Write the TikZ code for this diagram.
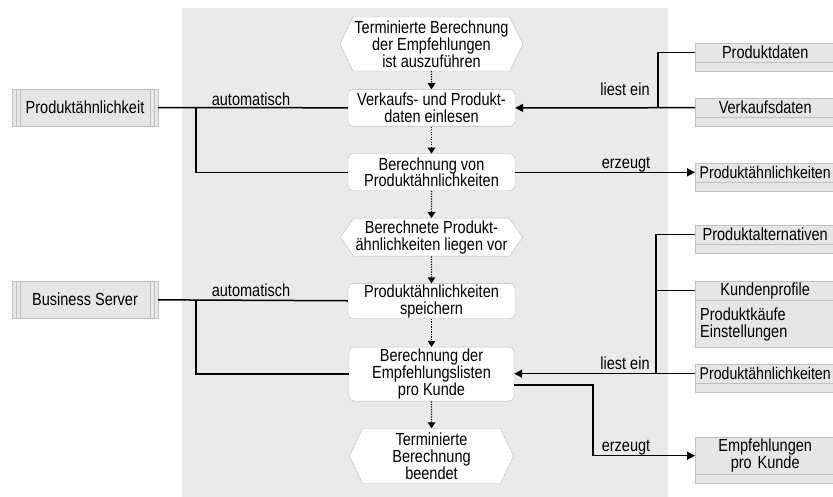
\documentclass[tikz,border=0pt]{standalone}
\usepackage{fontspec}
\setmainfont{Liberation Sans}[FakeStretch=0.83]
\usetikzlibrary{arrows.meta,shapes.symbols,positioning}
\definecolor{bggray}{RGB}{234,234,234}
\definecolor{boxfill}{RGB}{230,230,230}
\definecolor{boxline}{RGB}{192,192,192}
\definecolor{taskline}{RGB}{188,188,188}

\begin{document}
\begin{tikzpicture}[x=1pt, y=-1pt,
    task/.style={draw=taskline, fill=white, rounded corners=5pt, minimum width=167pt, minimum height=37pt, align=center, inner sep=1pt},
    event/.style={signal, signal to=east and west, draw=taskline, fill=white, minimum width=183pt, align=center, inner sep=1pt},
    actor/.style={draw=boxline, fill=boxfill, minimum width=146pt, minimum height=37pt, path picture={
        \foreach \d in {4,8} {
          \draw[boxline] ([xshift=\d pt]path picture bounding box.south west) -- ([xshift=\d pt]path picture bounding box.north west);
          \draw[boxline] ([xshift=-\d pt]path picture bounding box.south east) -- ([xshift=-\d pt]path picture bounding box.north east);
        }}},
    store/.style={draw=boxline, fill=boxfill, anchor=north west, minimum width=140pt, minimum height=19pt, text width=130pt, align=center, inner xsep=5pt, inner ysep=1pt},
    strip/.style={draw=boxline, fill=boxfill, minimum width=140pt, minimum height=9pt, inner sep=0pt},
    storebox/.style={store, label={[strip]below:}},
    widebox/.style={storebox, text width=132pt, inner xsep=4pt, font=\fontsize{17}{16.8}\selectfont},
    flow/.style={line width=1.4pt, dash pattern=on 1.2pt off 1.3pt, -{Triangle[length=6pt,width=7.5pt]}},
    link/.style={line width=1.5pt},
    feed/.style={link, -{Triangle[length=8pt,width=8pt]}},
    lbl/.style={anchor=base, inner sep=0pt}]
  \fontsize{17.5}{16.8}\selectfont
  \useasboundingbox (0,0) rectangle (833,497);
  \clip (0,0) rectangle (833,497);
  \fill[bggray] (182,8) rectangle (668,497);

  % process column
  \node[event, signal pointer angle=128, minimum height=54pt] (start) at (431.5,44) {Terminierte Berechnung\\der Empfehlungen\\ist auszuführen};
  \node[task, below=18pt of start] (read) {Verkaufs- und Produkt-\\daten einlesen};
  \node[task, below=27pt of read] (calc) {Berechnung von\\Produktähnlichkeiten};
  \node[event, signal pointer angle=111, minimum width=182pt, minimum height=38pt, below=27pt of calc] (ready) {Berechnete Produkt-\\ähnlichkeiten liegen vor};
  \node[task, minimum height=35pt, below=27pt of ready] (save) {Produktähnlichkeiten\\speichern};
  \node[task, minimum width=165pt, minimum height=54pt, below=28pt of save] (lists) {Berechnung der\\Empfehlungslisten\\pro Kunde};
  \node[event, signal pointer angle=129, minimum width=164pt, minimum height=55pt, below=27pt of lists] (done) {Terminierte\\Berechnung\\beendet};

  % systems
  \node[actor] (simjob) at (85,107.5) {Produktähnlichkeit};
  \node[actor] (server) at (85,299.5) {Business Server};

  % data
  \node[storebox] (proddata) at (695,43) {Produktdaten};
  \node[storebox] (salesdata) at (695,98) {Verkaufsdaten};
  \node[widebox] (simout) at (695,163) {Produktähnlichkeiten};
  \node[storebox] (alternatives) at (695,225) {Produktalternativen};
  \node[store, label={[strip, minimum height=47pt, text width=130pt, inner xsep=5pt, align=left]below:Produktkäufe\\Einstellungen}] (profiles) at (695,281) {Kundenprofile};
  \node[widebox] (simin) at (695,364) {Produktähnlichkeiten};
  \node[storebox, minimum height=37pt] (recs) at (695,437) {Empfehlungen\\pro Kunde};

  \foreach \a/\b in {start/read, read/calc, calc/ready, ready/save, save/lists, lists/done}
    \draw[flow] (\a) -- (\b);

  \coordinate (simfork) at ([xshift=38pt]simjob.east);
  \coordinate (serverfork) at ([xshift=38pt]server.east);
  \coordinate (readfork) at ([xshift=-37pt]salesdata.west);
  \coordinate (listfork) at ([xshift=-39pt]simin.west);
  \coordinate (recsturn) at ([xshift=79pt, yshift=-11pt]lists.east);

  \draw[link] (simjob) -- (read);
  \draw[link] (simfork) |- (calc);
  \draw[link] (server) -- (save);
  \draw[link] (serverfork) |- (lists);
  \draw[feed] (salesdata.west) -- (read.east);
  \draw[link] (proddata.west) -| (readfork);
  \draw[feed] (calc.east) -- (calc.east -| simout.west);
  \draw[feed] (simin.west) -- (simin.west -| lists.east);
  \draw[link] (alternatives.west) -| (listfork);
  \draw[link] (profiles.west) -- (profiles.west -| listfork);
  \draw[feed] ([yshift=-11pt]lists.east) -- (recsturn) |- (recs);

  \node[lbl] (autolbl1) at (251,105.5) {automatisch};
  \node[lbl] (autolbl2) at (251,297) {automatisch};
  \node[lbl] (readlbl1) at (625,96) {liest ein};
  \node[lbl] (makelbl1) at (626,169) {erzeugt};
  \node[lbl] (readlbl2) at (625,369) {liest ein};
  \node[lbl] (makelbl2) at (626,451) {erzeugt};
\end{tikzpicture}
\end{document}
